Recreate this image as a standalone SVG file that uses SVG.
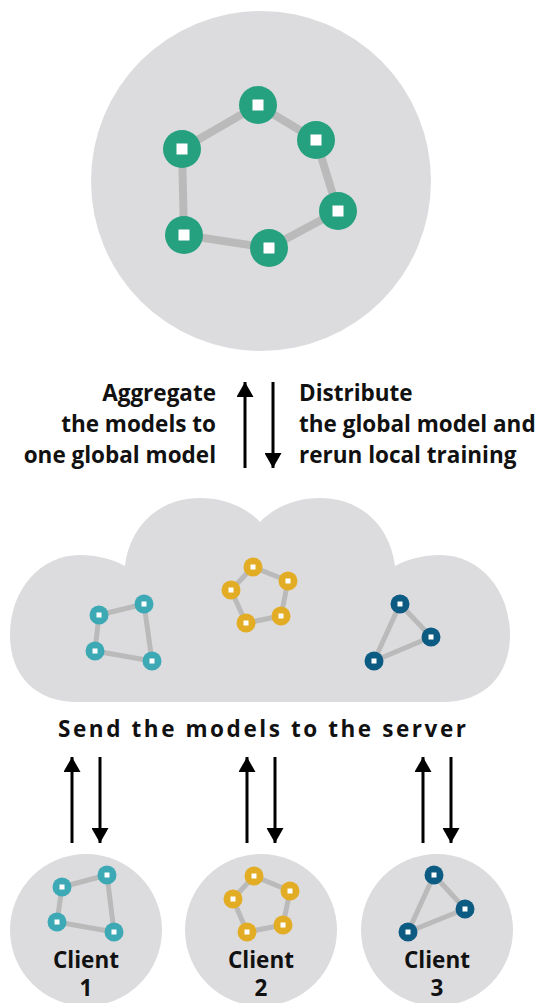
<svg xmlns="http://www.w3.org/2000/svg" width="543" height="1003" viewBox="0 0 543 1003">
<style>
.bg{fill:#dcdcde}
.edge{stroke:#bababa;fill:none;stroke-linecap:round;stroke-linejoin:round}
.big{stroke-width:8}
.sm{stroke-width:5}
.sq{fill:#ffffff}
.green{fill:#26a17f}
.teal{fill:#3ca9b5}
.yel{fill:#e2ac24}
.blue{fill:#0c5b82}
.txt{font-family:"Open Sans","Liberation Sans",sans-serif;font-weight:700;fill:#111111}
.lbl{font-size:22.5px}
.cl{font-size:22.5px;text-anchor:middle}
.arrow{stroke:#000;stroke-width:3;fill:none}
</style>
<defs>
<marker id="ah" markerUnits="userSpaceOnUse" markerWidth="15" markerHeight="17" viewBox="0 0 15 17" refX="15" refY="8.5" orient="auto">
<path d="M0,0 L15,8.5 L0,17 Z" fill="#000"/>
</marker>
</defs>

<g id="server">
<circle class="bg" cx="261" cy="181" r="170"/>
<g class="edge big">
<polyline points="182,149 258,105 316,140 338,211 269,248 184,235 182,149"/>
</g>
<g class="green">
<circle cx="258" cy="105" r="19"/>
<circle cx="316" cy="140" r="19"/>
<circle cx="182" cy="149" r="19"/>
<circle cx="338" cy="211" r="19"/>
<circle cx="184" cy="235" r="19"/>
<circle cx="269" cy="248" r="19"/>
</g>
<g class="sq">
<rect x="252.5" y="99.5" width="11" height="11"/>
<rect x="310.5" y="134.5" width="11" height="11"/>
<rect x="176.5" y="143.5" width="11" height="11"/>
<rect x="332.5" y="205.5" width="11" height="11"/>
<rect x="178.5" y="229.5" width="11" height="11"/>
<rect x="263.5" y="242.5" width="11" height="11"/>
</g>
</g>

<g id="aggregate-label">
<text class="txt lbl" text-anchor="end"><tspan x="216" y="401">Aggregate</tspan><tspan x="216" y="432">the models to</tspan><tspan x="216" y="463">one global model</tspan></text>
</g>
<g id="distribute-label">
<text class="txt lbl"><tspan x="299" y="401">Distribute</tspan><tspan x="299" y="432">the global model and</tspan><tspan x="299" y="463">rerun local training</tspan></text>
</g>

<g id="cloud">
<path class="bg" d="M 10 635 C 10 590, 40 555, 80 555 C 97 555, 112 559, 125 566 C 130 525, 160 498, 200 498 C 225 498, 247 508, 260 522 C 273 508, 295 498, 320 498 C 360 498, 390 525, 395 566 C 408 559, 423 555, 440 555 C 480 555, 510 590, 510 635 C 510 675, 485 702, 443 702 L 77 702 C 35 702, 10 675, 10 635 Z"/>
<g id="cloud-model-1">
<polygon class="edge sm" points="99,615 144,604 152,661 95,651"/>
<g class="teal"><circle cx="99" cy="615" r="9.5"/><circle cx="144" cy="604" r="9.5"/><circle cx="152" cy="661" r="9.5"/><circle cx="95" cy="651" r="9.5"/></g>
<g class="sq"><rect x="96.5" y="612.5" width="5" height="5"/><rect x="141.5" y="601.5" width="5" height="5"/><rect x="149.5" y="658.5" width="5" height="5"/><rect x="92.5" y="648.5" width="5" height="5"/></g>
</g>
<g id="cloud-model-2">
<polygon class="edge sm" points="253,567 288,581 281,616 246,623 231,590"/>
<g class="yel"><circle cx="253" cy="567" r="9.5"/><circle cx="288" cy="581" r="9.5"/><circle cx="281" cy="616" r="9.5"/><circle cx="246" cy="623" r="9.5"/><circle cx="231" cy="590" r="9.5"/></g>
<g class="sq"><rect x="250.5" y="564.5" width="5" height="5"/><rect x="285.5" y="578.5" width="5" height="5"/><rect x="278.5" y="613.5" width="5" height="5"/><rect x="243.5" y="620.5" width="5" height="5"/><rect x="228.5" y="587.5" width="5" height="5"/></g>
</g>
<g id="cloud-model-3">
<polygon class="edge sm" points="400,604 431,637 374,661"/>
<g class="blue"><circle cx="400" cy="604" r="9.5"/><circle cx="431" cy="637" r="9.5"/><circle cx="374" cy="661" r="9.5"/></g>
<g class="sq"><rect x="397.5" y="601.5" width="5" height="5"/><rect x="428.5" y="634.5" width="5" height="5"/><rect x="371.5" y="658.5" width="5" height="5"/></g>
</g>
</g>

<g id="send-label">
<text class="txt" x="58" y="737" font-size="22.5" textLength="408" lengthAdjust="spacing">Send the models to the server</text>
</g>

<g id="connectors">
<line class="arrow" x1="245" y1="468" x2="245" y2="382" marker-end="url(#ah)"/>
<line class="arrow" x1="273" y1="382" x2="273" y2="468" marker-end="url(#ah)"/>
<line class="arrow" x1="72" y1="843" x2="72" y2="757" marker-end="url(#ah)"/>
<line class="arrow" x1="100" y1="757" x2="100" y2="843" marker-end="url(#ah)"/>
<line class="arrow" x1="247" y1="843" x2="247" y2="757" marker-end="url(#ah)"/>
<line class="arrow" x1="275" y1="757" x2="275" y2="843" marker-end="url(#ah)"/>
<line class="arrow" x1="423" y1="843" x2="423" y2="757" marker-end="url(#ah)"/>
<line class="arrow" x1="451" y1="757" x2="451" y2="843" marker-end="url(#ah)"/>
</g>

<g id="client-1">
<circle class="bg" cx="86" cy="930" r="76"/>
<polygon class="edge sm" points="62,887 107,875 114,932 57,922"/>
<g class="teal"><circle cx="62" cy="887" r="9.5"/><circle cx="107" cy="875" r="9.5"/><circle cx="114" cy="932" r="9.5"/><circle cx="57" cy="922" r="9.5"/></g>
<g class="sq"><rect x="59.5" y="884.5" width="5" height="5"/><rect x="104.5" y="872.5" width="5" height="5"/><rect x="111.5" y="929.5" width="5" height="5"/><rect x="54.5" y="919.5" width="5" height="5"/></g>
<text class="txt cl" x="86" y="968">Client</text>
<text class="txt cl" x="86" y="996">1</text>
</g>

<g id="client-2">
<circle class="bg" cx="261" cy="930" r="76"/>
<polygon class="edge sm" points="254,876 290,891 283,925 247,932 233,899"/>
<g class="yel"><circle cx="254" cy="876" r="9.5"/><circle cx="290" cy="891" r="9.5"/><circle cx="283" cy="925" r="9.5"/><circle cx="247" cy="932" r="9.5"/><circle cx="233" cy="899" r="9.5"/></g>
<g class="sq"><rect x="251.5" y="873.5" width="5" height="5"/><rect x="287.5" y="888.5" width="5" height="5"/><rect x="280.5" y="922.5" width="5" height="5"/><rect x="244.5" y="929.5" width="5" height="5"/><rect x="230.5" y="896.5" width="5" height="5"/></g>
<text class="txt cl" x="261" y="968">Client</text>
<text class="txt cl" x="261" y="996">2</text>
</g>

<g id="client-3">
<circle class="bg" cx="437" cy="930" r="76"/>
<polygon class="edge sm" points="434,875 465,909 408,932"/>
<g class="blue"><circle cx="434" cy="875" r="9.5"/><circle cx="465" cy="909" r="9.5"/><circle cx="408" cy="932" r="9.5"/></g>
<g class="sq"><rect x="431.5" y="872.5" width="5" height="5"/><rect x="462.5" y="906.5" width="5" height="5"/><rect x="405.5" y="929.5" width="5" height="5"/></g>
<text class="txt cl" x="437" y="968">Client</text>
<text class="txt cl" x="437" y="996">3</text>
</g>
</svg>
